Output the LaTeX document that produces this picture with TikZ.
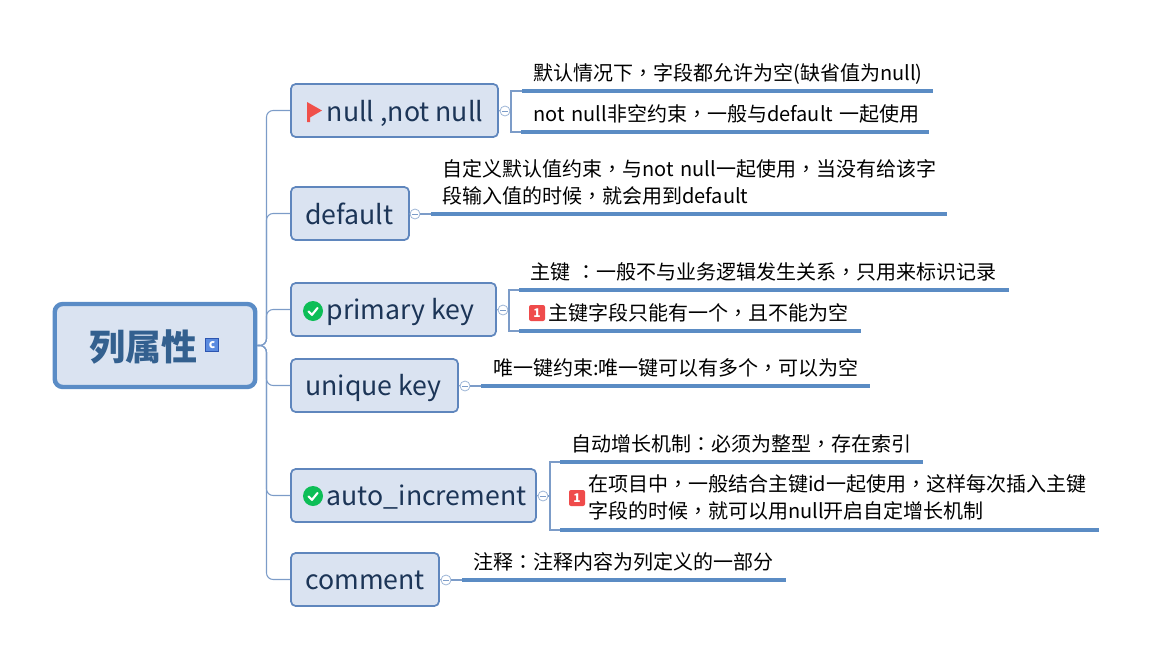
\documentclass[tikz,border=0pt]{standalone}
\usepackage{fontspec}
\setmainfont{Noto Sans CJK SC}
\newfontfamily\tcpunct{Noto Sans CJK TC}
\newcommand{\Cm}{{\tcpunct ，}}
\newcommand{\Cl}{{\tcpunct ：}}
\definecolor{topicfill}{HTML}{DAE3F1}
\definecolor{topicedge}{HTML}{5F86BD}
\definecolor{rootedge}{HTML}{5A8CC6}
\definecolor{linecol}{HTML}{5B8CC4}
\definecolor{thincol}{HTML}{7C9CC8}
\definecolor{topictext}{HTML}{1C3557}
\definecolor{roottext}{HTML}{33608F}
\definecolor{okgreen}{HTML}{0DBE57}
\definecolor{redicon}{HTML}{EF4B4B}
\definecolor{flagred}{HTML}{F0504A}
\definecolor{cfill}{HTML}{5B8BE0}
\definecolor{cedge}{HTML}{2D55B0}
\tikzset{
  x=0.75pt,y=-0.75pt,
  rootbox/.style={draw=rootedge,fill=topicfill,line width=3.3pt,rounded corners=6pt,inner sep=0pt,
    minimum width=150.4pt,minimum height=62.25pt},
  topic/.style={draw=topicedge,fill=topicfill,line width=1.3pt,rounded corners=3.5pt,inner sep=0pt,
    minimum height=39.75pt},
  toptext/.style={anchor=west,inner sep=0pt,text=topictext,text height=17pt,text depth=3.5pt,font=\fontsize{20}{24}\selectfont},
  collapse/.style={circle,draw=thincol!75,fill=white,line width=0.6pt,minimum size=7.5pt,inner sep=0pt,
    path picture={\draw[thincol,line width=0.5pt] ([xshift=-2pt]path picture bounding box.center)--([xshift=2pt]path picture bounding box.center);}},
  leaf/.style={anchor=south west,inner sep=0pt,align=left,text width=#1,font=\fontsize{15}{20.25}\selectfont,text=black},
  uline/.style={draw=linecol,line width=2.4pt},
  thin conn/.style={draw=thincol,line width=0.8pt},
  branch/.style={draw=thincol,line width=0.8pt,rounded corners=5pt},
  checkicon/.style={circle,fill=okgreen,minimum size=15pt,inner sep=0pt},
  oneicon/.style={fill=redicon,rounded corners=1.5pt,minimum size=12pt,inner sep=0pt,text=white,font=\fontsize{9}{9}\selectfont\bfseries},
  cicon/.style={draw=cedge,fill=cfill,minimum size=10pt,inner sep=0pt,text=white,line width=0.6pt,font=\fontsize{9}{9}\selectfont\bfseries},
}
\newcommand{\chk}[1]{\draw[white,line width=1.6pt,line cap=round,line join=round] ([shift={(-4.5,0.5)}]#1.center) -- ([shift={(-1,3.8)}]#1.center) -- ([shift={(4.5,-3)}]#1.center);}
\begin{document}
\begin{tikzpicture}
\useasboundingbox (0,0) rectangle (1160,664);
% root
\node[rootbox] (root) at (155,345.5) {};
\node[inner sep=0pt,text=roottext,font=\fontsize{27}{30}\selectfont\bfseries] (roott) at (143,347) {列属性};
\node[cicon] (cic) at (212,345) {c};
% topics
\node[topic,minimum width=155.25pt] (n1) at (394.5,110.5) {};
\node[topic,minimum width=88.5pt] (n2) at (350,213.5) {};
\node[topic,minimum width=153.75pt] (n3) at (393.5,309.5) {};
\node[topic,minimum width=125.25pt] (n4) at (374.5,385.5) {};
\node[topic,minimum width=183.75pt] (n5) at (413.5,495.5) {};
\node[topic,minimum width=111pt] (n6) at (365,579.5) {};
\node[toptext] (n1t) at (326.5,112) {null ,not null};
\node[toptext] (n2t) at (305,215) {default};
\node[toptext] (n3t) at (326.5,310) {primary key};
\node[toptext] (n4t) at (305,386) {unique key};
\node[toptext] (n5t) at (326.5,496) {auto\_increment};
\node[toptext] (n6t) at (305,580) {comment};
% icons
\fill[flagred] (307,102) -- (322,110.5) -- (310,117.5) -- (310,122) -- (307,122) -- cycle;
\node[checkicon] (ok3) at (313,311) {}; \chk{ok3}
\node[checkicon] (ok5) at (313,496) {}; \chk{ok5}
% branches
\foreach \t in {n1,n2,n3,n4,n5,n6}{
  \draw[branch] (root.east) -- ++(9,0) |- (\t.west);
}
% collapse circles
\node[collapse] (c1) at (505,111) {};
\node[collapse] (c2) at (415,214) {};
\node[collapse] (c3) at (503,310) {};
\node[collapse] (c4) at (465,386) {};
\node[collapse] (c5) at (543,496) {};
\node[collapse] (c6) at (446,580) {};
\foreach \t/\c in {n1/c1,n2/c2,n3/c3,n4/c4,n5/c5,n6/c6}{\draw[thin conn] (\t.east) -- (\c.west);}
% leaves
\node[leaf=307.5pt,minimum height=25pt] (l1a) at (522,91) {\hspace*{8.25pt}默认情况下\Cm 字段都允许为空(缺省值为null)};
\node[leaf=305.25pt,minimum height=26.25pt] (l1b) at (521,132) {\hspace*{9pt}not null非空约束\Cm 一般与default 一起使用};
\node[leaf=386.25pt,minimum height=47.25pt] (l2a) at (431,214) {\hspace*{8.25pt}自定义默认值约束\Cm 与not null一起使用\Cm 当没有给该字\\\hspace*{8.25pt}段输入值的时候\Cm 就会用到default};
\node[leaf=366.75pt,minimum height=27pt] (l3a) at (519,290) {\hspace*{8.25pt}主键 \Cl 一般不与业务逻辑发生关系\Cm 只用来标识记录};
\node[leaf=255.75pt,minimum height=27pt] (l3b) at (519,331) {\hspace*{21.75pt}主键字段只能有一个\Cm 且不能为空};
\node[leaf=291pt,minimum height=27pt] (l4a) at (481,386) {\hspace*{9pt}唯一键约束:唯一键可以有多个\Cm 可以为空};
\node[leaf=271.5pt,minimum height=27pt] (l5a) at (560,462) {\hspace*{8.25pt}自动增长机制\Cl 必须为整型\Cm 存在索引};
\node[leaf=403.5pt,minimum height=48.75pt] (l5b) at (560,530) {\hspace*{21pt}在项目中\Cm 一般结合主键id一起使用\Cm 这样每次插入主键\\\hspace*{21pt}字段的时候\Cm 就可以用null开启自定增长机制};
\node[leaf=242.25pt,minimum height=27pt] (l6a) at (462,580) {\hspace*{8.25pt}注释\Cl 注释内容为列定义的一部分};
\foreach \l in {l1a,l1b,l2a,l3a,l3b,l4a,l5a,l5b,l6a}{\draw[uline] (\l.south west) -- (\l.south east);}
\node[oneicon] (p3) at (537,313) {1};
\node[oneicon] (p5) at (577,498) {1};
% bracket joints
\coordinate (b1) at (511,111);
\coordinate (b3) at (509,310);
\coordinate (b5) at (550,496);
\draw[thin conn] (c1.east) -- (b1) (b1) |- (l1a.south west) (b1) |- (l1b.south west);
\draw[thin conn] (c3.east) -- (b3) (b3) |- (l3a.south west) (b3) |- (l3b.south west);
\draw[thin conn] (c5.east) -- (b5) (b5) |- (l5a.south west) (b5) |- (l5b.south west);
\draw[thin conn] (c2.east) -- (l2a.south west);
\draw[thin conn] (c4.east) -- (l4a.south west);
\draw[thin conn] (c6.east) -- (l6a.south west);
\end{tikzpicture}
\end{document}
